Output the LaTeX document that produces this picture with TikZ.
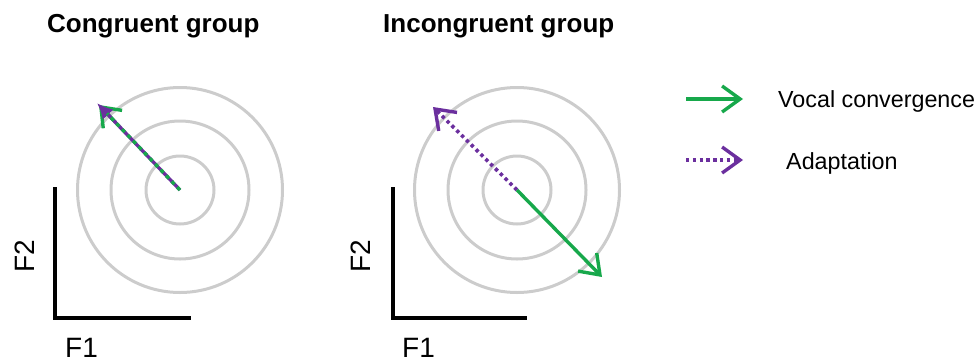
\documentclass[tikz,border=0pt]{standalone}
\usepackage{fontspec}
\setmainfont{Liberation Sans}
\usetikzlibrary{arrows.meta,calc}
\definecolor{ringgray}{HTML}{CCCCCC}
\definecolor{vgreen}{HTML}{17A84B}
\definecolor{vpurple}{HTML}{6B2F9E}
\begin{document}
\begin{tikzpicture}[x=1pt,y=-1pt,
  ring/.style={draw=ringgray,line width=3pt,circle,inner sep=0pt,minimum size=#1},
  axisline/.style={draw=black,line width=4pt},
  title/.style={font=\bfseries\fontsize{26}{30}\selectfont,anchor=base west,inner sep=0pt},
  axlabel/.style={font=\fontsize{28}{32}\selectfont,inner sep=0pt},
  legtext/.style={font=\fontsize{23.3}{27}\selectfont,anchor=base west,inner sep=0pt},
  openhead/.style={-{Straight Barb[length=18pt,width=26pt,line width=3.4pt]}},
  conv/.style={draw=vgreen,line width=3.4pt,openhead},
  adapt/.style={draw=vpurple,line width=3.6pt,dash pattern=on 3.4pt off 3.4pt,openhead},
]
\useasboundingbox (0,0) rectangle (976,362);

% titles
\node[title] (t1) at (47,32) {Congruent group};
\node[title] (t2) at (383,32) {Incongruent group};

% ---- left panel ----
\coordinate (c1) at (180,190);
\node[ring=68pt] (r1a) at (c1) {};
\node[ring=138pt] (r1b) at (c1) {};
\node[ring=205pt] (r1c) at (c1) {};
\coordinate (a1top) at (55,187);
\coordinate (a1org) at (55,318);
\coordinate (a1rt) at (191,318);
\draw[axisline] (a1top) -- (a1org) -- (a1rt);
\node[axlabel,anchor=base west] (f1a) at (65,357) {F1};
\node[axlabel,rotate=90] (f2a) at (25,256) {F2};
\coordinate (tip1) at (97,103);
\coordinate (tip1g) at (99,105);
\coordinate (mid1) at ($(c1)!0.8!(tip1g)$);
\coordinate (end1) at ($(c1)!0.88!(tip1)$);
\draw[draw=vgreen,line width=3.4pt,
  -{Straight Barb[length=17pt,width=26pt,line width=3.4pt]}] (mid1) -- (tip1g);
\draw[draw=vpurple,line width=3.4pt,-{Latex[length=16pt,width=15pt]}] (c1) -- (tip1);
\draw[draw=vgreen,line width=3.4pt,dash pattern=on 4pt off 4pt] (c1) -- (end1);

% ---- right panel ----
\coordinate (c2) at (517,190);
\node[ring=68pt] (r2a) at (c2) {};
\node[ring=138pt] (r2b) at (c2) {};
\node[ring=205pt] (r2c) at (c2) {};
\coordinate (a2top) at (393,187);
\coordinate (a2org) at (393,318);
\coordinate (a2rt) at (527,318);
\draw[axisline] (a2top) -- (a2org) -- (a2rt);
\node[axlabel,anchor=base west] (f1b) at (402,357) {F1};
\node[axlabel,rotate=90] (f2b) at (361,256) {F2};
\coordinate (tip2p) at (433,107);
\coordinate (tip2g) at (602,277);
\draw[adapt] (c2) -- (tip2p);
\draw[conv] (c2) -- (tip2g);

% ---- legend ----
\coordinate (lg1) at (686,99);
\coordinate (lg2) at (743,99);
\coordinate (lp1) at (686,160);
\coordinate (lp2) at (743,160);
\draw[conv] (lg1) -- (lg2);
\draw[adapt] (lp1) -- (lp2);
\node[legtext] (lt1) at (778,107) {Vocal convergence};
\node[legtext] (lt2) at (786,169) {Adaptation};
\end{tikzpicture}
\end{document}
